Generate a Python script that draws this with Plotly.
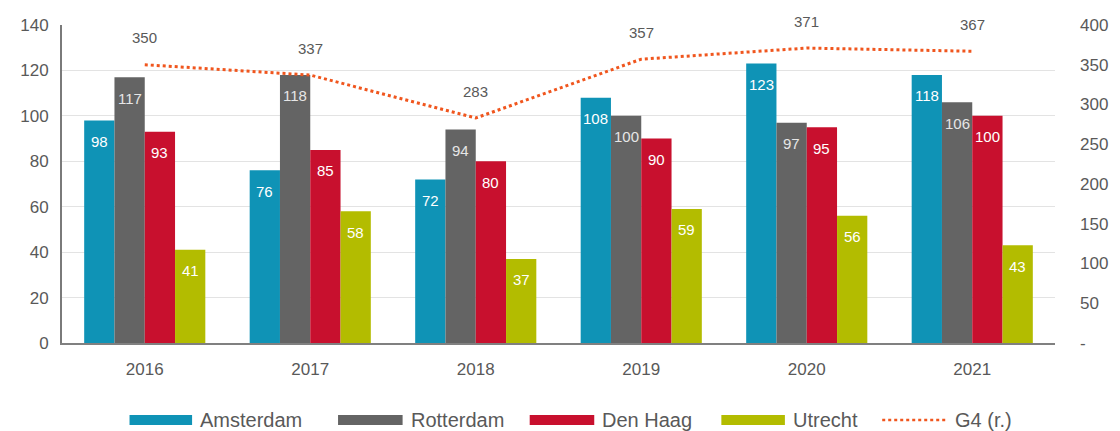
import plotly.graph_objects as go

years = ["2016", "2017", "2018", "2019", "2020", "2021"]
amsterdam = [98, 76, 72, 108, 123, 118]
rotterdam = [117, 118, 94, 100, 97, 106]
den_haag = [93, 85, 80, 90, 95, 100]
utrecht = [41, 58, 37, 59, 56, 43]
g4 = [350, 337, 283, 357, 371, 367]

right_ticks = [0, 50, 100, 150, 200, 250, 300, 350, 400]
right_labels = ["-", "50", "100", "150", "200", "250", "300", "350", "400"]

FONT = "Liberation Sans"
GREY_TEXT = "#595959"
LINE_COLOR = "#f0561e"

series = [
    ("Amsterdam", amsterdam, "#0f93b6", "#ffffff"),
    ("Rotterdam", rotterdam, "#646464", "#e6e6e6"),
    ("Den Haag", den_haag, "#c8102e", "#ffffff"),
    ("Utrecht", utrecht, "#b3bc00", "#ffffff"),
]

W, H = 1120, 431
ML, MR, MT, MB = 62, 58, 25, 88

fig = go.Figure()
offsets = [-1.5, -0.5, 0.5, 1.5]
bar_w = 0.183
annotations = []
shapes = []
for (name, vals, color, tcol), off in zip(series, offsets):
    fig.add_trace(go.Bar(
        x=years, y=vals, name=name, marker=dict(color=color, line=dict(width=0)),
        width=bar_w, offset=off * bar_w - bar_w / 2, showlegend=False,
    ))
    for i, v in enumerate(vals):
        annotations.append(dict(
            x=i + off * bar_w, y=v, xref="x", yref="y", text=str(v), showarrow=False,
            yshift=-21, font=dict(size=15, color=tcol, family=FONT),
        ))

fig.add_trace(go.Scatter(
    x=years, y=g4, name="G4 (r.)", mode="lines", yaxis="y2", showlegend=False,
    line=dict(color=LINE_COLOR, width=3, dash="dot"),
))
for i, v in enumerate(g4):
    annotations.append(dict(
        x=i, y=v, xref="x", yref="y2", text=str(v), showarrow=False,
        yshift=27, font=dict(size=15, color=GREY_TEXT, family=FONT),
    ))


# Legend row below the plot: wide colour swatches followed by labels (pixel positions)
def px_x(p):
    return (p - ML) / (W - ML - MR)


def px_y(p):
    return (H - MB - p) / (H - MT - MB)


legend_items = [
    ("Amsterdam", "#0f93b6", 130, 193, "bar"),
    ("Rotterdam", "#646464", 340, 405, "bar"),
    ("Den Haag", "#c8102e", 533, 598, "bar"),
    ("Utrecht", "#b3bc00", 726, 790, "bar"),
    ("G4 (r.)", LINE_COLOR, 888, 953, "line"),
]
leg_cy = 420
for label, color, x0, x1, kind in legend_items:
    if kind == "bar":
        shapes.append(dict(
            type="rect", xref="paper", yref="paper",
            x0=px_x(x0), x1=px_x(x1), y0=px_y(leg_cy + 5), y1=px_y(leg_cy - 5),
            fillcolor=color, line=dict(width=0),
        ))
    else:
        shapes.append(dict(
            type="line", xref="paper", yref="paper",
            x0=px_x(x0), x1=px_x(x1), y0=px_y(leg_cy), y1=px_y(leg_cy),
            line=dict(color=color, width=2.5, dash="dot"),
        ))
    annotations.append(dict(
        x=px_x(x1 + 6), y=px_y(leg_cy), xref="paper", yref="paper",
        xanchor="left", yanchor="middle", text=label, showarrow=False,
        font=dict(size=20, color=GREY_TEXT, family=FONT),
    ))

fig.update_layout(
    width=W, height=H,
    margin=dict(l=ML, r=MR, t=MT, b=MB),
    paper_bgcolor="white", plot_bgcolor="white",
    barmode="overlay", showlegend=False,
    font=dict(family=FONT, color=GREY_TEXT, size=17),
    annotations=annotations, shapes=shapes,
    xaxis=dict(
        type="category", range=[-0.5, 5.5], showgrid=False,
        showline=True, linecolor="#808080", linewidth=2, ticks="",
        ticklabelstandoff=10,
        tickfont=dict(size=17, color=GREY_TEXT),
    ),
    yaxis=dict(
        range=[0, 140], dtick=20, showgrid=True, gridcolor="#e3e3e3", gridwidth=1,
        showline=True, linecolor="#7a7a7a", linewidth=2, zeroline=False,
        ticks="", ticklabelstandoff=8, tickfont=dict(size=17, color=GREY_TEXT),
    ),
    yaxis2=dict(
        overlaying="y", side="right", range=[0, 400],
        tickvals=right_ticks, ticktext=right_labels, showgrid=False,
        zeroline=False, showline=False, ticks="", ticklabelstandoff=24,
        tickfont=dict(size=17, color=GREY_TEXT),
    ),
)

fig.write_html("out.html")
